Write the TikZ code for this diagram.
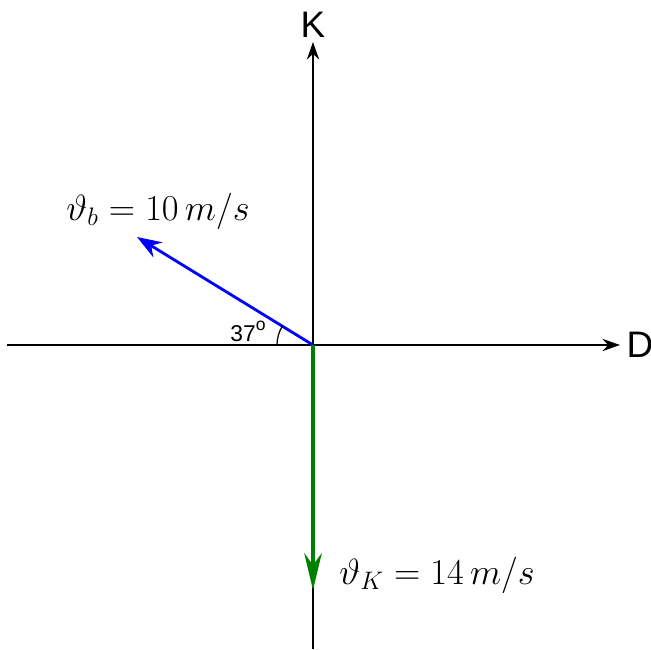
\documentclass[tikz,border=0pt]{standalone}
\usepackage{fontspec}
\setsansfont{Liberation Sans}
\usetikzlibrary{arrows.meta}
\tikzset{
  axis/.style={line width=0.8pt,-{Stealth[length=10pt,width=7pt]}},
  vec/.style={line width=1.6pt,-{Stealth[length=14pt,width=10pt]}},
  axlabel/.style={font=\sffamily\fontsize{21}{24}\selectfont},
  vlabel/.style={font=\fontsize{20}{24}\selectfont}
}
\begin{document}
\begin{tikzpicture}[x=0.02cm,y=0.02cm]
		\useasboundingbox (-313,-304) rectangle (338,345);
		\coordinate (O) at (0,0);
		\coordinate (xl) at (-306,0);
		\coordinate (xr) at (307,0);
		\coordinate (yb) at (0,-304);
		\coordinate (yt) at (0,303);
		\coordinate (vb) at (-176,108);
		\coordinate (vk) at (0,-245);
		% axes
		\draw[axis] (xl) -- (xr) node[axlabel,right=0pt] (D) {D};
		\draw[axis] (yb) -- (yt) node[axlabel,above=-1pt] (K) {K};
		% vectors
		\draw[vec,blue] (O) -- (vb);
		\draw[vec,line width=2pt,-{Stealth[length=21pt,width=10pt]},green!50!black] (O) -- (vk);
		\draw[line width=0.7pt] (O) ++(180:36) arc (180:148:36);
		\node[font=\sffamily\fontsize{13}{15}\selectfont] (ang) at (-65,14) {37\raisebox{0.9ex}{\fontsize{10}{12}\selectfont o}};
		\node[vlabel] (lb) at (-155,134) {$\vartheta_b=10\,m/s$};
		\node[vlabel] (lk) at (124,-230) {$\vartheta_K=14\,m/s$};
		\end{tikzpicture}
\end{document}
